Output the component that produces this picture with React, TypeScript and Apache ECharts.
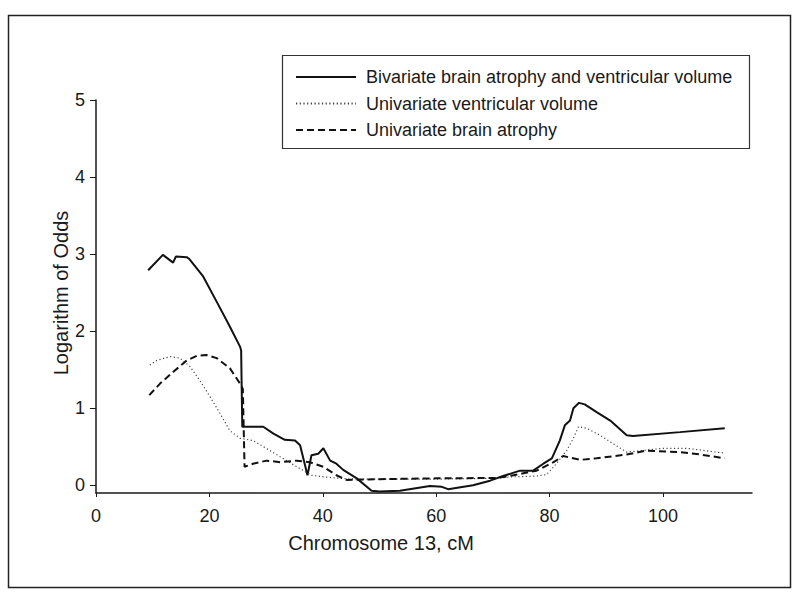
import React, { useEffect, useRef } from "react";
import * as echarts from "echarts";

const seriesNames = [
  "Bivariate brain atrophy and ventricular volume",
  "Univariate ventricular volume",
  "Univariate brain atrophy",
];

const xTicks = [0, 20, 40, 60, 80, 100];
const yTicks = [0, 1, 2, 3, 4, 5];

const bivX = [9.2, 11.8, 13.6, 14.1, 16.0, 16.4, 18.9, 21.3, 23.6, 25.4, 25.6, 25.8, 29.5, 31.3, 33.3, 35.1, 36.0, 37.3, 38.0, 39.2, 40.1, 41.3, 42.4, 43.6, 46.0, 48.6, 50.0, 53.6, 58.9, 61.0, 62.1, 66.5, 69.5, 71.8, 74.8, 77.1, 78.9, 80.4, 81.8, 82.7, 83.6, 84.2, 85.2, 86.2, 88.3, 90.7, 93.6, 94.7, 103.0, 110.9];
const bivY = [2.79, 2.99, 2.89, 2.97, 2.96, 2.94, 2.71, 2.38, 2.06, 1.80, 1.75, 0.76, 0.76, 0.67, 0.59, 0.58, 0.52, 0.13, 0.39, 0.41, 0.48, 0.32, 0.28, 0.20, 0.09, -0.07, -0.08, -0.07, -0.01, -0.02, -0.05, 0.00, 0.06, 0.12, 0.19, 0.19, 0.28, 0.35, 0.58, 0.78, 0.84, 1.00, 1.07, 1.05, 0.95, 0.84, 0.65, 0.64, 0.69, 0.74];

const ventX = [9.5, 10.7, 13.1, 14.8, 16.6, 18.3, 20.1, 21.9, 23.6, 25.4, 27.7, 30.7, 33.6, 36.6, 38.0, 40.1, 43.0, 46.0, 50.0, 60.0, 70.0, 73.6, 77.7, 79.5, 81.2, 83.0, 84.2, 85.1, 86.5, 88.9, 91.2, 93.6, 100.0, 104.2, 110.6];
const ventY = [1.56, 1.62, 1.67, 1.65, 1.54, 1.36, 1.15, 0.93, 0.71, 0.61, 0.58, 0.45, 0.32, 0.19, 0.13, 0.11, 0.09, 0.08, 0.08, 0.08, 0.09, 0.11, 0.12, 0.14, 0.28, 0.45, 0.61, 0.76, 0.74, 0.65, 0.54, 0.43, 0.48, 0.48, 0.42];

const atrX = [9.4, 11.3, 13.6, 16.0, 17.8, 19.5, 21.3, 23.6, 25.4, 25.9, 26.2, 27.7, 30.1, 32.5, 35.4, 37.7, 40.1, 42.4, 44.2, 50.0, 60.0, 70.7, 73.6, 77.7, 80.7, 82.4, 85.4, 88.3, 93.6, 97.1, 103.0, 106.5, 110.9];
const atrY = [1.17, 1.32, 1.47, 1.62, 1.68, 1.69, 1.65, 1.52, 1.32, 1.25, 0.24, 0.28, 0.32, 0.30, 0.32, 0.30, 0.24, 0.13, 0.07, 0.08, 0.09, 0.095, 0.13, 0.19, 0.30, 0.38, 0.33, 0.35, 0.40, 0.45, 0.43, 0.40, 0.35];

const xTitle = "Chromosome 13, cM";
const yTitle = "Logarithm of Odds";

const FONT = "'Liberation Sans', Arial, sans-serif";
const INK = "#1a1a1a";

function pairs(xs: number[], ys: number[]) {
  return xs.map((x, i) => [x, ys[i]]);
}

export default function App() {
  const ref = useRef<HTMLDivElement>(null);
  useEffect(() => {
    document.body.style.margin = "0";
    const chart = echarts.init(ref.current!, null, { renderer: "svg" });
    chart.setOption({
      animation: false,
      backgroundColor: "#ffffff",
      textStyle: { fontFamily: FONT },
      grid: { left: 96, top: 100, width: 656, height: 393 },
      legend: {
        orient: "vertical",
        left: 295,
        top: 68,
        itemWidth: 60,
        itemHeight: 18,
        itemGap: 8.5,
        padding: 0,
        data: seriesNames,
        itemStyle: { color: "transparent", borderWidth: 0, opacity: 0 },
        textStyle: { fontSize: 18, color: INK, fontFamily: FONT, padding: [0, 0, 0, 5] },
      },
      xAxis: {
        type: "value",
        min: 0,
        max: 115.7,
        axisLine: { show: true, onZero: false, lineStyle: { color: INK, width: 1.5 } },
        axisTick: { show: true, length: 4, customValues: xTicks, lineStyle: { color: INK } },
        axisLabel: { customValues: xTicks, fontSize: 18, color: INK, margin: 14, fontFamily: FONT },
        splitLine: { show: false },
      },
      yAxis: {
        type: "value",
        min: -0.1,
        max: 5,
        axisLine: { show: true, onZero: false, lineStyle: { color: INK, width: 1.5 } },
        axisTick: { show: true, length: 6, customValues: yTicks, lineStyle: { color: INK } },
        axisLabel: { customValues: yTicks, fontSize: 18, color: INK, margin: 11, fontFamily: FONT },
        splitLine: { show: false },
      },
      graphic: [
        {
          type: "rect",
          shape: { x: 8.5, y: 15.5, width: 782, height: 572 },
          style: { fill: "none", stroke: "#222", lineWidth: 1.5 },
          silent: true,
        },
        {
          type: "rect",
          shape: { x: 282.5, y: 55.5, width: 467, height: 93 },
          style: { fill: "none", stroke: "#333", lineWidth: 1.2 },
          silent: true,
        },
        {
          type: "text",
          x: 381,
          y: 543,
          style: { text: xTitle, fill: INK, font: "20px " + FONT, align: "center", verticalAlign: "middle" },
          silent: true,
        },
        {
          type: "text",
          x: 61,
          y: 293,
          rotation: Math.PI / 2,
          style: { text: yTitle, fill: INK, font: "20px " + FONT, align: "center", verticalAlign: "middle" },
          silent: true,
        },
      ],
      series: [
        {
          name: seriesNames[0],
          type: "line",
          data: pairs(bivX, bivY),
          symbol: "none",
          lineStyle: { color: "#111", width: 2, type: "solid" },
          itemStyle: { color: "#111" },
        },
        {
          name: seriesNames[1],
          type: "line",
          data: pairs(ventX, ventY),
          symbol: "none",
          lineStyle: { color: "#444", width: 1.2, type: [1.2, 2.5] },
          itemStyle: { color: "#444" },
        },
        {
          name: seriesNames[2],
          type: "line",
          data: pairs(atrX, atrY),
          symbol: "none",
          lineStyle: { color: "#111", width: 2, type: [7, 4] },
          itemStyle: { color: "#111" },
        },
      ],
    });
    return () => chart.dispose();
  }, []);
  return <div ref={ref} style={{ width: 800, height: 601 }} />;
}
